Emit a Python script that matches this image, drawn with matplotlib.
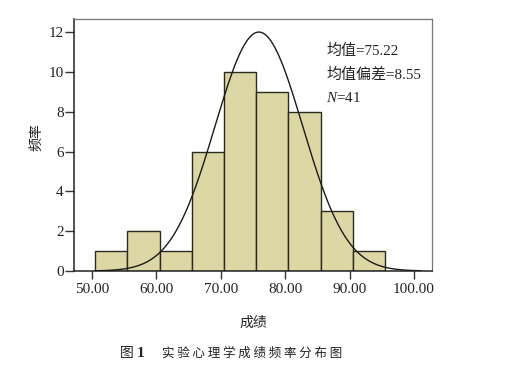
import numpy as np
import matplotlib
matplotlib.use('Agg')
import matplotlib.pyplot as plt

# 直方图数据
bin_edges = [50.5, 55.5, 60.5, 65.5, 70.5, 75.5, 80.5, 85.5, 90.5, 95.5]
counts = [1, 2, 1, 6, 10, 9, 8, 3, 1]

# 正态曲线参数（按图中曲线形状估计）
curve_mean = 75.9
curve_sd = 6.8
curve_peak = 12.0
curve_range = (50.5, 101.0)

x_ticks = [50, 60, 70, 80, 90, 100]
x_ticklabels = ['50.00', '60.00', '70.00', '80.00', '90.00', '100.00']
y_ticks = [0, 2, 4, 6, 8, 10, 12]

stats_lines = ['均值=75.22', '均值偏差=8.55', '$N$=41']

serif = ['Liberation Serif', 'Noto Sans CJK SC']
cjk = ['Noto Sans CJK SC', 'DejaVu Sans']
plt.rcParams['mathtext.fontset'] = 'custom'
plt.rcParams['mathtext.it'] = 'Liberation Serif:italic'
plt.rcParams['mathtext.rm'] = 'Liberation Serif'

fig = plt.figure(figsize=(5.13, 3.71), dpi=100)
ax = fig.add_axes([0.1443, 0.2695, 0.698, 0.679])

widths = np.diff(bin_edges)
ax.bar(bin_edges[:-1], counts, width=widths, align='edge',
       color='#dcd7a5', edgecolor='#2a2a1e', linewidth=1.0, zorder=2)

xs = np.linspace(curve_range[0], curve_range[1], 400)
ys = curve_peak * np.exp(-0.5 * ((xs - curve_mean) / curve_sd) ** 2)
ax.plot(xs, ys, color='#1a1a1a', linewidth=1.0, zorder=3)

ax.set_xlim(47.2, 102.8)
ax.set_ylim(0, 12.65)
ax.set_xticks(x_ticks)
ax.set_xticklabels(x_ticklabels, family=serif, fontsize=11, color='#222222')
ax.set_yticks(y_ticks)
ax.set_yticklabels([str(v) for v in y_ticks], family=serif, fontsize=11, color='#222222')
ax.tick_params(axis='y', length=6.5, width=1.0, pad=1, color='#333333')
ax.tick_params(axis='x', length=5.8, width=1.0, pad=3, color='#333333')

for side in ['left', 'bottom']:
    ax.spines[side].set_color('#222222')
    ax.spines[side].set_linewidth(1.1)
for side in ['top', 'right']:
    ax.spines[side].set_color('#777777')
    ax.spines[side].set_linewidth(0.9)

for i, line in enumerate(stats_lines):
    ax.text(0.705, 0.875 - i * 0.095, line, transform=ax.transAxes,
            family=serif, fontsize=10.8, color='#222222', va='center', ha='left')

ax.set_ylabel('频率', family=cjk, fontsize=10, color='#222222')
ax.yaxis.set_label_coords(-0.085, 0.53)
ax.set_xlabel('成绩', family=cjk, fontsize=10, labelpad=14, color='#222222')

fig.text(0.234, 0.048, '图', family=cjk, fontsize=10, color='#222222', va='center')
fig.text(0.266, 0.048, '1', family=serif, fontsize=11, fontweight='bold', color='#222222', va='center')
fig.text(0.316, 0.048, ' '.join('实验心理学成绩频率分布图'), family=cjk,
         fontsize=9, color='#222222', va='center')

fig.savefig('out.png', dpi=100)
